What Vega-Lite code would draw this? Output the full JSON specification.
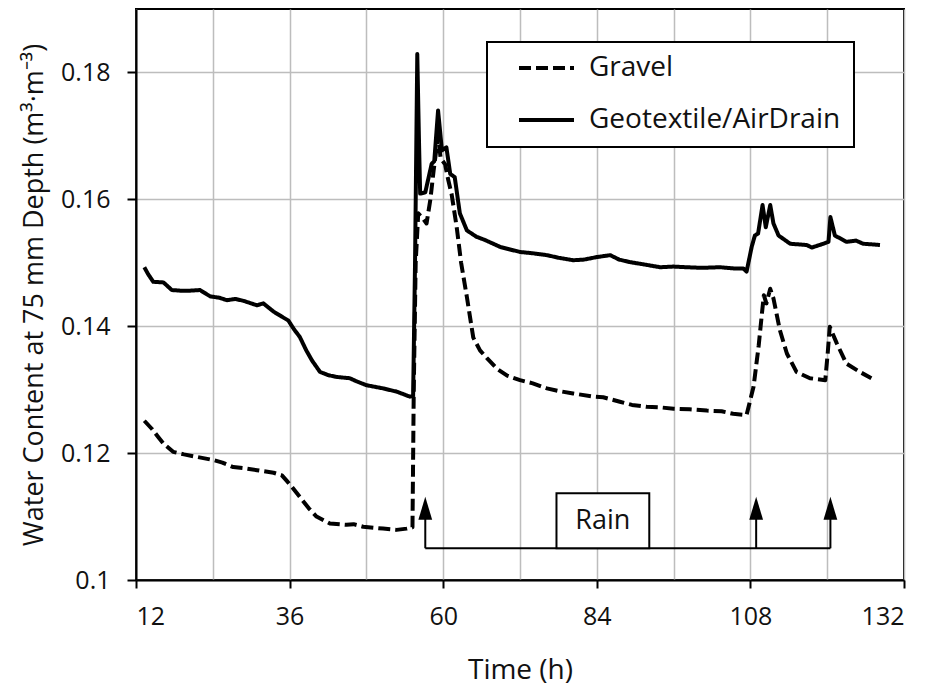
{
  "$schema": "https://vega.github.io/schema/vega-lite/v6.json",
  "width": 768,
  "height": 571,
  "autosize": {"type": "none"},
  "padding": {"left": 136, "top": 9, "right": 26, "bottom": 108},
  "background": "white",
  "config": {
    "font": "Open Sans",
    "view": {"stroke": "black", "strokeWidth": 2},
    "axis": {"labelColor": "#111", "titleColor": "#111", "titleFontWeight": "normal"}
  },
  "datasets": {
    "series": [
      {"s": "Gravel", "t": 13.3, "v": 0.1251},
      {"s": "Gravel", "t": 14.5, "v": 0.1238},
      {"s": "Gravel", "t": 15.5, "v": 0.1225},
      {"s": "Gravel", "t": 16.3, "v": 0.1215},
      {"s": "Gravel", "t": 17.8, "v": 0.1202},
      {"s": "Gravel", "t": 19.5, "v": 0.1198},
      {"s": "Gravel", "t": 21.5, "v": 0.1194},
      {"s": "Gravel", "t": 24.1, "v": 0.1189},
      {"s": "Gravel", "t": 25.5, "v": 0.1185},
      {"s": "Gravel", "t": 27.2, "v": 0.1178},
      {"s": "Gravel", "t": 29.0, "v": 0.1176},
      {"s": "Gravel", "t": 30.9, "v": 0.1173},
      {"s": "Gravel", "t": 33.5, "v": 0.1169},
      {"s": "Gravel", "t": 34.8, "v": 0.1165},
      {"s": "Gravel", "t": 35.5, "v": 0.1157},
      {"s": "Gravel", "t": 36.5, "v": 0.1145},
      {"s": "Gravel", "t": 37.6, "v": 0.1131},
      {"s": "Gravel", "t": 39.0, "v": 0.1113},
      {"s": "Gravel", "t": 40.2, "v": 0.1100},
      {"s": "Gravel", "t": 42.3, "v": 0.1089},
      {"s": "Gravel", "t": 44.9, "v": 0.1087},
      {"s": "Gravel", "t": 46.0, "v": 0.1088},
      {"s": "Gravel", "t": 47.5, "v": 0.1084},
      {"s": "Gravel", "t": 50.6, "v": 0.1081},
      {"s": "Gravel", "t": 52.7, "v": 0.1079},
      {"s": "Gravel", "t": 54.3, "v": 0.1081},
      {"s": "Gravel", "t": 55.2, "v": 0.1083},
      {"s": "Gravel", "t": 55.4, "v": 0.130},
      {"s": "Gravel", "t": 55.7, "v": 0.150},
      {"s": "Gravel", "t": 56.1, "v": 0.1578},
      {"s": "Gravel", "t": 56.8, "v": 0.1570},
      {"s": "Gravel", "t": 57.4, "v": 0.1562},
      {"s": "Gravel", "t": 58.0, "v": 0.1600},
      {"s": "Gravel", "t": 58.5, "v": 0.1645},
      {"s": "Gravel", "t": 59.2, "v": 0.1700},
      {"s": "Gravel", "t": 59.6, "v": 0.1665},
      {"s": "Gravel", "t": 60.3, "v": 0.1655},
      {"s": "Gravel", "t": 60.8, "v": 0.1630},
      {"s": "Gravel", "t": 61.3, "v": 0.1609},
      {"s": "Gravel", "t": 62.1, "v": 0.1557},
      {"s": "Gravel", "t": 62.8, "v": 0.1500},
      {"s": "Gravel", "t": 63.7, "v": 0.1446},
      {"s": "Gravel", "t": 64.7, "v": 0.1382},
      {"s": "Gravel", "t": 65.75, "v": 0.1362},
      {"s": "Gravel", "t": 66.8, "v": 0.1350},
      {"s": "Gravel", "t": 68.4, "v": 0.1333},
      {"s": "Gravel", "t": 70.0, "v": 0.1322},
      {"s": "Gravel", "t": 72.0, "v": 0.1315},
      {"s": "Gravel", "t": 74.0, "v": 0.1310},
      {"s": "Gravel", "t": 76.2, "v": 0.1302},
      {"s": "Gravel", "t": 78.0, "v": 0.1298},
      {"s": "Gravel", "t": 80.3, "v": 0.1294},
      {"s": "Gravel", "t": 83.5, "v": 0.1289},
      {"s": "Gravel", "t": 85.0, "v": 0.1288},
      {"s": "Gravel", "t": 87.6, "v": 0.1281},
      {"s": "Gravel", "t": 89.5, "v": 0.1276},
      {"s": "Gravel", "t": 91.8, "v": 0.1273},
      {"s": "Gravel", "t": 94.0, "v": 0.1272},
      {"s": "Gravel", "t": 96.0, "v": 0.1270},
      {"s": "Gravel", "t": 98.5, "v": 0.1269},
      {"s": "Gravel", "t": 101.2, "v": 0.1267},
      {"s": "Gravel", "t": 103.5, "v": 0.1266},
      {"s": "Gravel", "t": 105.3, "v": 0.1262},
      {"s": "Gravel", "t": 107.4, "v": 0.1260},
      {"s": "Gravel", "t": 108.5, "v": 0.1305},
      {"s": "Gravel", "t": 109.3, "v": 0.1370},
      {"s": "Gravel", "t": 109.8, "v": 0.1420},
      {"s": "Gravel", "t": 110.1, "v": 0.1449},
      {"s": "Gravel", "t": 110.5, "v": 0.1436},
      {"s": "Gravel", "t": 111.1, "v": 0.1459},
      {"s": "Gravel", "t": 111.6, "v": 0.1444},
      {"s": "Gravel", "t": 112.6, "v": 0.1394},
      {"s": "Gravel", "t": 113.7, "v": 0.1357},
      {"s": "Gravel", "t": 115.2, "v": 0.1328},
      {"s": "Gravel", "t": 117.3, "v": 0.1318},
      {"s": "Gravel", "t": 119.7, "v": 0.1315},
      {"s": "Gravel", "t": 120.1, "v": 0.1360},
      {"s": "Gravel", "t": 120.4, "v": 0.1399},
      {"s": "Gravel", "t": 121.5, "v": 0.1373},
      {"s": "Gravel", "t": 123.0, "v": 0.1341},
      {"s": "Gravel", "t": 125.1, "v": 0.1328},
      {"s": "Gravel", "t": 126.9, "v": 0.1318},
      {"s": "Geotextile/AirDrain", "t": 13.3, "v": 0.1493},
      {"s": "Geotextile/AirDrain", "t": 13.9, "v": 0.1482},
      {"s": "Geotextile/AirDrain", "t": 14.7, "v": 0.1470},
      {"s": "Geotextile/AirDrain", "t": 16.3, "v": 0.1469},
      {"s": "Geotextile/AirDrain", "t": 17.6, "v": 0.1457},
      {"s": "Geotextile/AirDrain", "t": 19.0, "v": 0.1456},
      {"s": "Geotextile/AirDrain", "t": 20.4, "v": 0.1456},
      {"s": "Geotextile/AirDrain", "t": 22.0, "v": 0.1457},
      {"s": "Geotextile/AirDrain", "t": 23.6, "v": 0.1447},
      {"s": "Geotextile/AirDrain", "t": 25.0, "v": 0.1445},
      {"s": "Geotextile/AirDrain", "t": 26.2, "v": 0.1441},
      {"s": "Geotextile/AirDrain", "t": 27.5, "v": 0.1443},
      {"s": "Geotextile/AirDrain", "t": 28.8, "v": 0.1440},
      {"s": "Geotextile/AirDrain", "t": 30.9, "v": 0.1433},
      {"s": "Geotextile/AirDrain", "t": 31.9, "v": 0.1436},
      {"s": "Geotextile/AirDrain", "t": 33.5, "v": 0.1423},
      {"s": "Geotextile/AirDrain", "t": 34.8, "v": 0.1415},
      {"s": "Geotextile/AirDrain", "t": 35.8, "v": 0.1409},
      {"s": "Geotextile/AirDrain", "t": 36.7, "v": 0.1395},
      {"s": "Geotextile/AirDrain", "t": 37.6, "v": 0.1383},
      {"s": "Geotextile/AirDrain", "t": 38.6, "v": 0.1362},
      {"s": "Geotextile/AirDrain", "t": 39.5, "v": 0.1346},
      {"s": "Geotextile/AirDrain", "t": 40.75, "v": 0.1328},
      {"s": "Geotextile/AirDrain", "t": 42.0, "v": 0.1323},
      {"s": "Geotextile/AirDrain", "t": 43.4, "v": 0.1320},
      {"s": "Geotextile/AirDrain", "t": 45.4, "v": 0.1318},
      {"s": "Geotextile/AirDrain", "t": 46.5, "v": 0.1313},
      {"s": "Geotextile/AirDrain", "t": 48.0, "v": 0.1307},
      {"s": "Geotextile/AirDrain", "t": 50.6, "v": 0.1302},
      {"s": "Geotextile/AirDrain", "t": 52.7, "v": 0.1297},
      {"s": "Geotextile/AirDrain", "t": 54.8, "v": 0.1289},
      {"s": "Geotextile/AirDrain", "t": 55.3, "v": 0.1290},
      {"s": "Geotextile/AirDrain", "t": 55.6, "v": 0.150},
      {"s": "Geotextile/AirDrain", "t": 55.95, "v": 0.1829},
      {"s": "Geotextile/AirDrain", "t": 56.2, "v": 0.170},
      {"s": "Geotextile/AirDrain", "t": 56.4, "v": 0.1609},
      {"s": "Geotextile/AirDrain", "t": 57.2, "v": 0.1611},
      {"s": "Geotextile/AirDrain", "t": 58.2, "v": 0.1656},
      {"s": "Geotextile/AirDrain", "t": 58.6, "v": 0.1660},
      {"s": "Geotextile/AirDrain", "t": 59.2, "v": 0.1740},
      {"s": "Geotextile/AirDrain", "t": 59.8, "v": 0.1677},
      {"s": "Geotextile/AirDrain", "t": 60.5, "v": 0.1682},
      {"s": "Geotextile/AirDrain", "t": 61.1, "v": 0.1640},
      {"s": "Geotextile/AirDrain", "t": 61.8, "v": 0.1635},
      {"s": "Geotextile/AirDrain", "t": 62.6, "v": 0.1578},
      {"s": "Geotextile/AirDrain", "t": 63.7, "v": 0.1551},
      {"s": "Geotextile/AirDrain", "t": 65.2, "v": 0.1541},
      {"s": "Geotextile/AirDrain", "t": 66.5, "v": 0.1536},
      {"s": "Geotextile/AirDrain", "t": 68.9, "v": 0.1525},
      {"s": "Geotextile/AirDrain", "t": 72.0, "v": 0.1517},
      {"s": "Geotextile/AirDrain", "t": 74.0, "v": 0.1515},
      {"s": "Geotextile/AirDrain", "t": 76.2, "v": 0.1512},
      {"s": "Geotextile/AirDrain", "t": 78.0, "v": 0.1508},
      {"s": "Geotextile/AirDrain", "t": 80.3, "v": 0.1504},
      {"s": "Geotextile/AirDrain", "t": 82.0, "v": 0.1505},
      {"s": "Geotextile/AirDrain", "t": 84.0, "v": 0.1509},
      {"s": "Geotextile/AirDrain", "t": 86.1, "v": 0.1512},
      {"s": "Geotextile/AirDrain", "t": 87.5, "v": 0.1505},
      {"s": "Geotextile/AirDrain", "t": 89.2, "v": 0.1501},
      {"s": "Geotextile/AirDrain", "t": 91.0, "v": 0.1498},
      {"s": "Geotextile/AirDrain", "t": 93.9, "v": 0.1493},
      {"s": "Geotextile/AirDrain", "t": 96.0, "v": 0.1494},
      {"s": "Geotextile/AirDrain", "t": 98.0, "v": 0.1493},
      {"s": "Geotextile/AirDrain", "t": 100.5, "v": 0.1492},
      {"s": "Geotextile/AirDrain", "t": 103.25, "v": 0.1493},
      {"s": "Geotextile/AirDrain", "t": 105.5, "v": 0.1491},
      {"s": "Geotextile/AirDrain", "t": 106.9, "v": 0.1491},
      {"s": "Geotextile/AirDrain", "t": 107.4, "v": 0.1486},
      {"s": "Geotextile/AirDrain", "t": 108.2, "v": 0.1525},
      {"s": "Geotextile/AirDrain", "t": 108.7, "v": 0.1543},
      {"s": "Geotextile/AirDrain", "t": 109.2, "v": 0.1546},
      {"s": "Geotextile/AirDrain", "t": 109.9, "v": 0.1591},
      {"s": "Geotextile/AirDrain", "t": 110.4, "v": 0.1556},
      {"s": "Geotextile/AirDrain", "t": 111.1, "v": 0.1591},
      {"s": "Geotextile/AirDrain", "t": 111.6, "v": 0.1562},
      {"s": "Geotextile/AirDrain", "t": 112.4, "v": 0.1543},
      {"s": "Geotextile/AirDrain", "t": 114.2, "v": 0.1530},
      {"s": "Geotextile/AirDrain", "t": 116.8, "v": 0.1528},
      {"s": "Geotextile/AirDrain", "t": 117.6, "v": 0.1524},
      {"s": "Geotextile/AirDrain", "t": 119.4, "v": 0.1530},
      {"s": "Geotextile/AirDrain", "t": 120.2, "v": 0.1533},
      {"s": "Geotextile/AirDrain", "t": 120.5, "v": 0.1572},
      {"s": "Geotextile/AirDrain", "t": 121.2, "v": 0.1543},
      {"s": "Geotextile/AirDrain", "t": 123.0, "v": 0.1533},
      {"s": "Geotextile/AirDrain", "t": 124.5, "v": 0.1535},
      {"s": "Geotextile/AirDrain", "t": 125.6, "v": 0.1530},
      {"s": "Geotextile/AirDrain", "t": 127.0, "v": 0.1529},
      {"s": "Geotextile/AirDrain", "t": 128.25, "v": 0.1528}
    ],
    "arrows": [
      {"t": 57.2, "base": 0.105, "top": 0.1100, "head": 0.1113},
      {"t": 108.9, "base": 0.105, "top": 0.1100, "head": 0.1113},
      {"t": 120.5, "base": 0.105, "top": 0.1100, "head": 0.1113}
    ],
    "bracket": [{"t1": 57.2, "t2": 120.5, "y": 0.105}],
    "rainbox": [{"t1": 77.7, "t2": 92.2, "y1": 0.105, "y2": 0.11367, "tc": 84.95, "yc": 0.1093, "label": "Rain"}]
  },
  "layer": [
    {
      "data": {"name": "series"},
      "mark": {"type": "line", "color": "black", "strokeWidth": 4, "strokeJoin": "round", "clip": true},
      "encoding": {
        "x": {
          "field": "t", "type": "quantitative",
          "scale": {"domain": [12, 132], "nice": false, "zero": false},
          "axis": {
            "values": [12, 24, 36, 48, 60, 72, 84, 96, 108, 120, 132],
            "labelExpr": "(datum.value - 12) % 24 === 0 ? datum.label : ''",
            "tickOpacity": {"condition": {"test": "(datum.value - 12) % 24 === 0", "value": 1}, "value": 0},
            "grid": true, "gridColor": "#bdbdbd", "gridWidth": 1.5,
            "domainColor": "black", "domainWidth": 2,
            "tickColor": "black", "tickWidth": 2, "tickSize": 8,
            "labelFontSize": 25, "labelPadding": 16,
            "title": "Time (h)", "titleFontSize": 28, "titlePadding": 27
          }
        },
        "y": {
          "field": "v", "type": "quantitative",
          "scale": {"domain": [0.1, 0.19], "nice": false, "zero": false},
          "axis": {
            "values": [0.1, 0.12, 0.14, 0.16, 0.18],
            "labelExpr": "format(datum.value, '.2~f')",
            "grid": true, "gridColor": "#bdbdbd", "gridWidth": 1.5,
            "domainColor": "black", "domainWidth": 2,
            "tickColor": "black", "tickWidth": 2, "tickSize": 9,
            "labelFontSize": 25, "labelPadding": 17,
            "title": "Water Content at 75 mm Depth (m³·m⁻³)", "titleFontSize": 27, "titlePadding": 12
          }
        },
        "strokeDash": {
          "field": "s", "type": "nominal",
          "scale": {"domain": ["Gravel", "Geotextile/AirDrain"], "range": [[12, 5], [1, 0]]},
          "legend": {
            "title": null, "orient": "none", "legendX": 351, "legendY": 33,
            "fillColor": "white", "strokeColor": "black",
            "padding": 13, "symbolOffset": 17, "rowPadding": 24, "clipHeight": 26,
            "symbolType": "stroke", "symbolSize": 3025, "symbolStrokeWidth": 4,
            "symbolStrokeColor": "black",
            "labelFontSize": 28, "labelOffset": 13, "labelColor": "#111", "labelLimit": 400,
            "encode": {"legend": {"update": {"strokeWidth": {"value": 2}}}}
          }
        }
      }
    },
    {
      "data": {"name": "bracket"},
      "mark": {"type": "rule", "color": "black", "strokeWidth": 2},
      "encoding": {
        "x": {"field": "t1", "type": "quantitative"},
        "x2": {"field": "t2"},
        "y": {"field": "y", "type": "quantitative"}
      }
    },
    {
      "data": {"name": "arrows"},
      "mark": {"type": "rule", "color": "black", "strokeWidth": 2},
      "encoding": {
        "x": {"field": "t", "type": "quantitative"},
        "y": {"field": "base", "type": "quantitative"},
        "y2": {"field": "top"}
      }
    },
    {
      "data": {"name": "arrows"},
      "mark": {"type": "point", "shape": "M0,-1L0.6,1L-0.6,1Z", "filled": true, "color": "black", "size": 529, "opacity": 1},
      "encoding": {
        "x": {"field": "t", "type": "quantitative"},
        "y": {"field": "head", "type": "quantitative"}
      }
    },
    {
      "data": {"name": "rainbox"},
      "mark": {"type": "rect", "fill": "white", "stroke": "black", "strokeWidth": 2},
      "encoding": {
        "x": {"field": "t1", "type": "quantitative"},
        "x2": {"field": "t2"},
        "y": {"field": "y1", "type": "quantitative"},
        "y2": {"field": "y2"}
      }
    },
    {
      "data": {"name": "rainbox"},
      "mark": {"type": "text", "fontSize": 27, "color": "#111", "align": "center", "baseline": "middle"},
      "encoding": {
        "x": {"field": "tc", "type": "quantitative"},
        "y": {"field": "yc", "type": "quantitative"},
        "text": {"field": "label"}
      }
    }
  ]
}
